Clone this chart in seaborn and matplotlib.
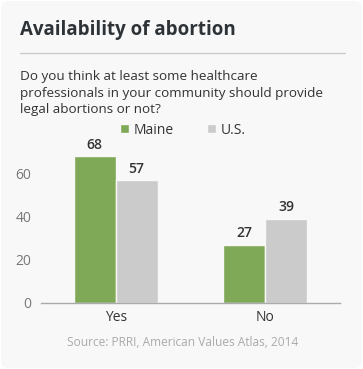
import matplotlib
matplotlib.use("Agg")
import matplotlib.pyplot as plt
from matplotlib.patches import FancyBboxPatch
import seaborn as sns
import pandas as pd

categories = ["Yes", "No"]
series_names = ["Maine", "U.S."]
maine = [68, 27]
us = [57, 39]
yticks = [0, 20, 40, 60]
title = "Availability of abortion"
subtitle = "Do you think at least some healthcare\nprofessionals in your community should provide\nlegal abortions or not?"
source = "Source: PRRI, American Values Atlas, 2014"

df = pd.DataFrame({
    "answer": categories * 2,
    "group": [series_names[0]] * len(categories) + [series_names[1]] * len(categories),
    "value": maine + us,
})

sns.set_theme(style="white")
plt.rcParams["font.family"] = ["Open Sans", "DejaVu Sans"]

W, H = 363, 369
fig = plt.figure(figsize=(W / 100, H / 100), dpi=100)
fig.patch.set_facecolor("white")
card = FancyBboxPatch((1 / W, 1 / H), 1 - 2 / W, 1 - 2 / H,
                      boxstyle="round,pad=0,rounding_size=0.02",
                      transform=fig.transFigure, facecolor="#f8f8f8",
                      edgecolor="none", zorder=-10)
fig.patches.append(card)

ax = fig.add_axes([41 / W, 66 / H, 299 / W, 173 / H])
ax.set_facecolor("none")

palette = {"Maine": "#7fa857", "U.S.": "#cbcbcb"}
sns.barplot(data=df, x="answer", y="value", hue="group", palette=palette,
            width=0.56, edgecolor="#f8f8f8", linewidth=1, saturation=1,
            ax=ax, legend=True)

ax.set_ylim(0, 80)
ax.set_xlim(-0.5, 1.5)
ax.set_yticks(yticks)
ax.set_xlabel("")
ax.set_ylabel("")
for s in ["top", "right", "left"]:
    ax.spines[s].set_visible(False)
ax.spines["bottom"].set_color("#aaaaaa")
ax.spines["bottom"].set_linewidth(1)
ax.tick_params(axis="y", length=0, labelsize=10, labelcolor="#777777", pad=7)
ax.tick_params(axis="x", length=0, labelsize=10, labelcolor="#333333", pad=5)

for cont in ax.containers:
    ax.bar_label(cont, fmt="%d", padding=3, fontsize=10, color="#333333",
                 fontweight="semibold")

sns.move_legend(ax, "center", bbox_to_anchor=((183 - 41) / 299, 1.0), ncol=2,
                frameon=False, title=None, fontsize=10, handlelength=0.65,
                handleheight=0.65, columnspacing=2.4, handletextpad=0.35)
for t in ax.get_legend().get_texts():
    t.set_color("#333333")

fig.text(20 / W, 1 - 30 / H, title, fontsize=13.5, fontweight="bold",
         color="#2e3338", va="center", ha="left")
fig.add_artist(plt.Line2D([20 / W, 345 / W], [1 - 53 / H, 1 - 53 / H],
                          color="#cccccc", linewidth=1, transform=fig.transFigure))
fig.text(20 / W, 1 - 70 / H, subtitle, fontsize=9.7, color="#333333",
         va="top", ha="left", linespacing=1.35)
fig.text(183 / W, 1 - 342 / H, source, fontsize=8.6, color="#aaaaaa",
         va="center", ha="center")

fig.savefig("out.png", dpi=100, facecolor=fig.get_facecolor())
